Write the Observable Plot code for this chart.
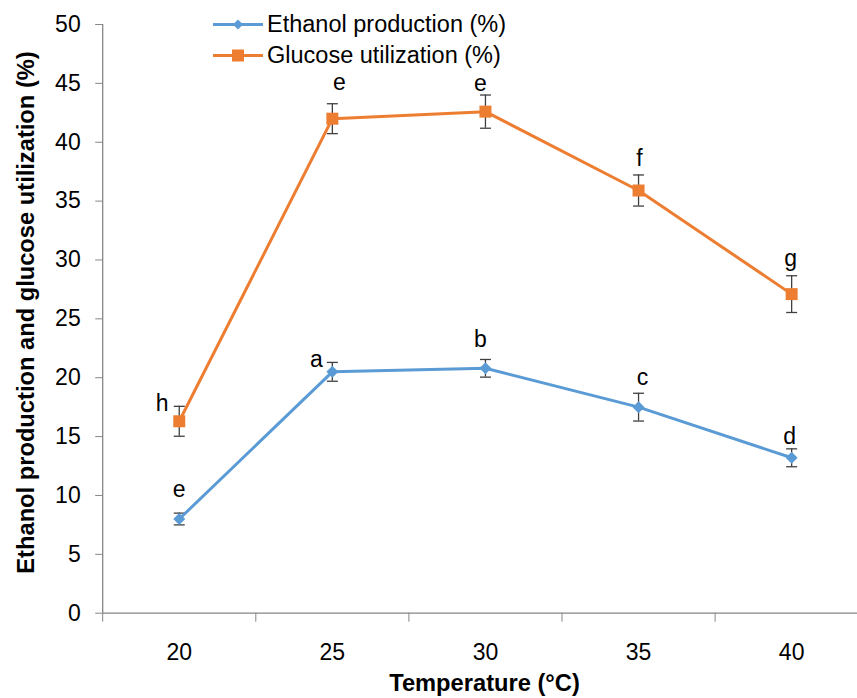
<!DOCTYPE html>
<html>
<head>
<meta charset="utf-8">
<script src="https://cdn.jsdelivr.net/npm/d3@7"></script>
<script src="https://cdn.jsdelivr.net/npm/@observablehq/plot@0.6"></script>
<style>
  body { margin: 0; background: #fff; }
  #wrap { position: relative; width: 857px; height: 698px; font-family: "Liberation Sans", Arial, sans-serif; }
  #legend { position: absolute; left: 213px; top: 8.5px; }
  .row { display: flex; align-items: center; height: 31px; }
  .row span { font-size: 23.5px; line-height: 31px; margin-left: 4px; color: #000; white-space: nowrap; }
</style>
</head>
<body>
<div id="wrap"><div id="legend"></div></div>
<script>
// ---- data ----
const temperatures = [20, 25, 30, 35, 40];
const ethanolProduction = [8.0, 20.5, 20.8, 17.5, 13.2];
const ethanolError = [0.5, 0.8, 0.75, 1.18, 0.76];
const ethanolLetters = ["e", "a", "b", "c", "d"];
const glucoseUtilization = [16.3, 42.0, 42.6, 35.9, 27.1];
const glucoseError = [1.27, 1.27, 1.41, 1.32, 1.56];
const glucoseLetters = ["h", "e", "e", "f", "g"];
const yTicks = [0, 5, 10, 15, 20, 25, 30, 35, 40, 45, 50];
const seriesNames = ["Ethanol production (%)", "Glucose utilization (%)"];
const xTitle = "Temperature (°C)";
const yTitle = "Ethanol production and glucose utilization (%)";

// ---- styling ----
const blue = "#5B9BD5", orange = "#ED7D31", gray = "#868686", errColor = "#404040";
const font = "'Liberation Sans', Arial, sans-serif";
// label offsets in px (dx, dy) relative to the point
const ethanolLabelOffsets = [[0, -22], [-16, -5], [-5, -21], [4, -22], [-2, -14]];
const glucoseLabelOffsets = [[-17, -10.7], [7, -29], [-5, -21], [1, -25], [-1, -28]];

const eth = temperatures.map((t, i) => ({t, v: ethanolProduction[i], e: ethanolError[i], l: ethanolLetters[i], o: ethanolLabelOffsets[i]}));
const glu = temperatures.map((t, i) => ({t, v: glucoseUtilization[i], e: glucoseError[i], l: glucoseLetters[i], o: glucoseLabelOffsets[i]}));
const boundaries = temperatures.map(t => t - 2.5);

const capSymbol = {
  draw(context, size) {
    const r = Math.sqrt(size / Math.PI);
    context.moveTo(-r, 0);
    context.lineTo(r, 0);
  }
};

function seriesMarks(data, color, symbol, r) {
  return [
    Plot.ruleX(data, {x: "t", y1: d => d.v - d.e, y2: d => d.v + d.e, stroke: errColor, strokeWidth: 1.3}),
    Plot.dot(data, {x: "t", y: d => d.v + d.e, symbol: capSymbol, r: 5.5, stroke: errColor, strokeWidth: 1.3, fill: "none"}),
    Plot.dot(data, {x: "t", y: d => d.v - d.e, symbol: capSymbol, r: 5.5, stroke: errColor, strokeWidth: 1.3, fill: "none"}),
    Plot.line(data, {x: "t", y: "v", stroke: color, strokeWidth: 3}),
    Plot.dot(data, {x: "t", y: "v", symbol, r, fill: color, stroke: "none"}),
    ...data.map(d => Plot.text([d], {x: "t", y: "v", text: "l", dx: d.o[0], dy: d.o[1], lineAnchor: "bottom", fontSize: 23, fill: "#000"}))
  ];
}

const chart = Plot.plot({
  width: 857,
  height: 698,
  marginLeft: 102.2,
  marginRight: 0,
  marginTop: 24,
  marginBottom: 85.3,
  style: {fontFamily: font, background: "white", color: "#000", overflow: "visible"},
  x: {type: "linear", domain: [17.5, 42.5], range: [102.2, 867.7]},
  y: {domain: [0, 50], range: [612.7, 24]},
  marks: [
    Plot.ruleY([0], {stroke: gray, strokeWidth: 1.3}),
    Plot.ruleX([17.5], {stroke: gray, strokeWidth: 1.3}),
    Plot.axisY(yTicks, {tickSize: 7, tickPadding: 15, fontSize: 23, stroke: gray, fill: "#000", label: null}),
    Plot.axisX(boundaries, {tickSize: 9, stroke: gray, tickFormat: () => "", label: null}),
    Plot.axisX(temperatures, {tickSize: 0, tickPadding: 30, fontSize: 23, fill: "#000", label: null}),
    ...seriesMarks(glu, orange, "square", 6.77),
    ...seriesMarks(eth, blue, "diamond2", 5.4),
    Plot.text([xTitle], {frameAnchor: "bottom", dx: 4.4, dy: 77.3, lineAnchor: "bottom", fontSize: 23.7, fontWeight: "bold", fill: "#000"}),
    Plot.text([yTitle], {frameAnchor: "left", dx: -69.2, dy: -6.35, rotate: -90, lineAnchor: "bottom", textAnchor: "middle", fontSize: 23.7, fontWeight: "bold", fill: "#000"})
  ]
});
document.getElementById("wrap").prepend(chart);

// ---- legend ----
const legend = d3.select("#legend");
[[seriesNames[0], blue, d3.symbolDiamond2, 64], [seriesNames[1], orange, d3.symbolSquare, 144]].forEach(([name, color, sym, size]) => {
  const row = legend.append("div").attr("class", "row");
  const svg = row.append("svg").attr("width", 50).attr("height", 31);
  svg.append("line").attr("x1", 0).attr("x2", 50).attr("y1", 15.5).attr("y2", 15.5).attr("stroke", color).attr("stroke-width", 3);
  svg.append("path").attr("transform", "translate(25,15.5)").attr("d", d3.symbol(sym, size)()).attr("fill", color);
  row.append("span").text(name);
});
</script>
</body>
</html>
